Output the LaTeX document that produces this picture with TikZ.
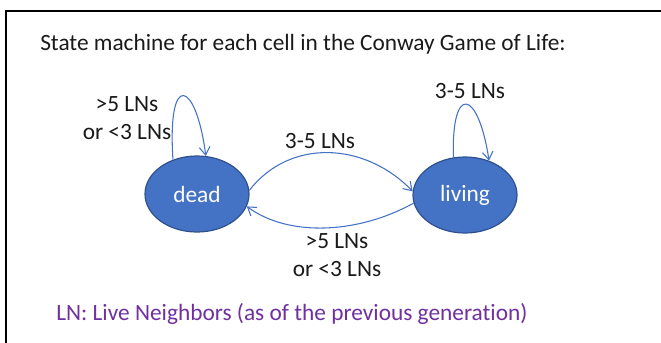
\documentclass[tikz,border=0pt]{standalone}
\usepackage{fontspec}
\setmainfont{Carlito}[Ligatures=NoCommon]
\usetikzlibrary{arrows.meta,shapes.geometric}
\definecolor{stateblue}{HTML}{4472C4}
\definecolor{stateedge}{HTML}{2F528F}
\definecolor{notepurple}{HTML}{7030A0}
\definecolor{txt}{HTML}{1A1A1A}
\begin{document}
\begin{tikzpicture}[x=0.75pt,y=-0.75pt,
  every node/.style={font=\fontsize{17.5}{20.5}\selectfont, text=txt, inner sep=0pt},
  state/.style={ellipse, fill=stateblue, draw=stateedge, line width=0.9pt,
    minimum width=78pt, minimum height=57pt, text=white},
  trans/.style={draw=stateblue, line width=0.8pt, -{Straight Barb[length=6pt,width=8pt]}},
  lbl/.style={align=center}]
\useasboundingbox (0,0) rectangle (661,343);
\fill[white] (0,0) rectangle (661,343);
\coordinate (fbl) at (6,345);
\coordinate (ftl) at (6,11);
\coordinate (ftr) at (663,11);
\draw[line width=1pt, black] (fbl) -- (ftl) -- (ftr);

\node[anchor=base west] (title) at (40,50) {State machine for each cell in the Conway Game of Life:};

\node[state] (dead) at (197,194) {dead};
\node[state] (living) at (465,195) {living};

\draw[trans] (dead.125) .. controls (167,70) and (196,80) .. (dead.77);
\draw[trans] (living.107) .. controls (451,84) and (478,88) .. (living.55);
\draw[trans] (dead.4) .. controls (290,138) and (365,142) .. (living.176);
\draw[trans] (living.189) .. controls (360,233) and (290,238) .. (dead.346);

\node[lbl] (l1) at (127,118) {>5 LNs\\or <3 LNs};
\node[lbl] (l2) at (470,91) {3-5 LNs};
\node[lbl] (l3) at (320,141) {3-5 LNs};
\node[lbl] (l4) at (337,255) {>5 LNs\\or <3 LNs};

\node[anchor=base west, text=notepurple] (note) at (56,320) {LN: Live Neighbors (as of the previous generation)};
\end{tikzpicture}
\end{document}
